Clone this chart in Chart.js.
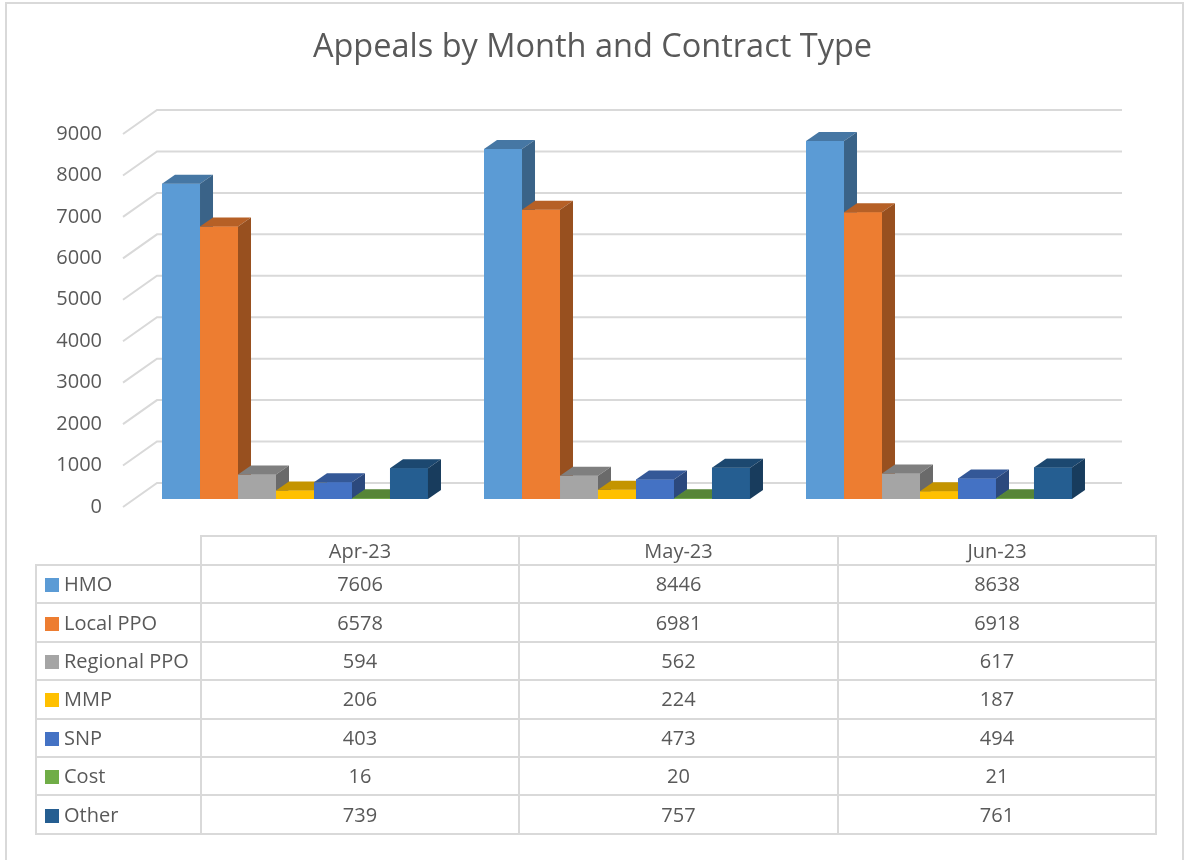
<!DOCTYPE html>
<html>
<head>
<meta charset="utf-8">
<script src="https://cdn.jsdelivr.net/npm/chart.js@4.4.0/dist/chart.umd.min.js"></script>
<style>
  body { margin: 0; background: #fff; font-family: "Open Sans", sans-serif; }
  #wrap { position: relative; width: 1185px; height: 860px; overflow: hidden; }
  #frame { position: absolute; left: 5px; top: 2px; width: 1175px; height: 900px; border: 2px solid #d9d9d9; }
  #chart { position: absolute; left: 0; top: 0; }
  #tbl { position: absolute; left: 35px; top: 535px; border-collapse: collapse; table-layout: fixed;
         color: #595959; font-size: 20px; }
  #tbl td { border: 2px solid #d9d9d9; text-align: center; padding: 0; white-space: nowrap; }
  #tbl tr.head td { height: 27px; line-height: 27px; }
  #tbl tr.row td { height: 36.4px; line-height: 36px; }
  #tbl td.corner { border-top: none; border-left: none; }
  #tbl td.name { text-align: left; padding-left: 8px; }
  .sw { display: inline-block; width: 14px; height: 14px; margin-right: 5px; vertical-align: -1px; }
</style>
</head>
<body>
<div id="wrap">
  <div id="frame"></div>
  <canvas id="chart" width="1185" height="860"></canvas>
  <table id="tbl"></table>
</div>
<script>
// data
const categories = ["Apr-23", "May-23", "Jun-23"];
const seriesNames = ["HMO", "Local PPO", "Regional PPO", "MMP", "SNP", "Cost", "Other"];
const hmo = [7606, 8446, 8638];
const localPpo = [6578, 6981, 6918];
const regionalPpo = [594, 562, 617];
const mmp = [206, 224, 187];
const snp = [403, 473, 494];
const cost = [16, 20, 21];
const other = [739, 757, 761];
const yTicks = [0, 1000, 2000, 3000, 4000, 5000, 6000, 7000, 8000, 9000];

const seriesValues = [hmo, localPpo, regionalPpo, mmp, snp, cost, other];
const colors = ["#5B9BD5", "#ED7D31", "#A5A5A5", "#FFC000", "#4472C4", "#70AD47", "#255E91"];
const textColor = "#595959";
const gridColor = "#d9d9d9";

// depth of a bar
const DX = 13, DY = -9;

function shade(hex, f) {
  const n = parseInt(hex.slice(1), 16);
  const r = Math.round(((n >> 16) & 255) * f);
  const g = Math.round(((n >> 8) & 255) * f);
  const b = Math.round((n & 255) * f);
  return "rgb(" + r + "," + g + "," + b + ")";
}

const bars3d = {
  id: "bars3d",
  beforeDatasetsDraw(chart) {
    const { ctx, chartArea, scales: { y } } = chart;
    ctx.save();
    ctx.strokeStyle = gridColor;
    ctx.lineWidth = 2;
    y.ticks.forEach(t => {
      const py = y.getPixelForValue(t.value);
      ctx.beginPath();
      ctx.moveTo(chartArea.left - 11, py + 8);
      ctx.lineTo(chartArea.left + 23, py - 16);
      ctx.lineTo(chartArea.right + 22, py - 16);
      ctx.stroke();
    });
    ctx.restore();
  },
  afterDatasetsDraw(chart) {
    const ctx = chart.ctx;
    ctx.save();
    // redraw left to right so each front face covers the previous bar's side
    categories.forEach((c, i) => {
      chart.data.datasets.forEach((ds, d) => {
        const bar = chart.getDatasetMeta(d).data[i];
        const p = bar.getProps(["x", "y", "base", "width"], true);
        const l = p.x - p.width / 2, r = p.x + p.width / 2;
        bar.draw(ctx);
        ctx.fillStyle = shade(colors[d], 0.77);
        ctx.beginPath();
        ctx.moveTo(l, p.y);
        ctx.lineTo(l + DX, p.y + DY);
        ctx.lineTo(r + DX, p.y + DY);
        ctx.lineTo(r, p.y);
        ctx.closePath();
        ctx.fill();
        ctx.fillStyle = shade(colors[d], 0.64);
        ctx.beginPath();
        ctx.moveTo(r, p.y);
        ctx.lineTo(r + DX, p.y + DY);
        ctx.lineTo(r + DX, p.base + DY);
        ctx.lineTo(r, p.base);
        ctx.closePath();
        ctx.fill();
      });
    });
    ctx.restore();
  }
};

new Chart(document.getElementById("chart"), {
  type: "bar",
  data: {
    labels: categories,
    datasets: seriesNames.map((name, i) => ({
      label: name,
      data: seriesValues[i],
      backgroundColor: colors[i],
      borderWidth: 0,
      categoryPercentage: 0.826,
      barPercentage: 1
    }))
  },
  options: {
    responsive: false,
    animation: false,
    layout: { padding: { left: 0, right: 0, top: 0, bottom: 361 } },
    scales: {
      x: { display: false },
      y: {
        min: 0,
        max: 9000,
        afterBuildTicks: s => { s.ticks = yTicks.map(v => ({ value: v })); },
        afterFit: s => { s.width = 134; },
        grid: { display: false, drawTicks: false },
        border: { display: false },
        ticks: {
          color: textColor,
          padding: 32,
          labelOffset: 8,
          font: { family: "Open Sans", size: 20 },
          callback: v => String(v)
        }
      },
      // empty right gutter so the title stays centred on the page
      gutter: {
        type: "linear",
        position: "right",
        grid: { display: false, drawTicks: false },
        border: { display: false },
        ticks: { display: false },
        afterFit: s => { s.width = 85; }
      }
    },
    plugins: {
      legend: { display: false },
      tooltip: { enabled: false },
      title: {
        display: true,
        text: "Appeals by Month and Contract Type",
        color: textColor,
        font: { family: "Open Sans", size: 32.5, weight: "normal" },
        padding: { top: 28, bottom: 59 }
      }
    }
  },
  plugins: [bars3d]
});

// data table under the chart
const tbl = document.getElementById("tbl");
let html = '<colgroup><col style="width:165px"><col style="width:318px"><col style="width:319px"><col style="width:318px"></colgroup>';
html += '<tr class="head"><td class="corner"></td>' + categories.map(c => "<td>" + c + "</td>").join("") + "</tr>";
seriesNames.forEach((name, i) => {
  html += '<tr class="row"><td class="name"><span class="sw" style="background:' + colors[i] + '"></span>' + name + "</td>" +
    seriesValues[i].map(v => "<td>" + v + "</td>").join("") + "</tr>";
});
tbl.innerHTML = html;
</script>
</body>
</html>
